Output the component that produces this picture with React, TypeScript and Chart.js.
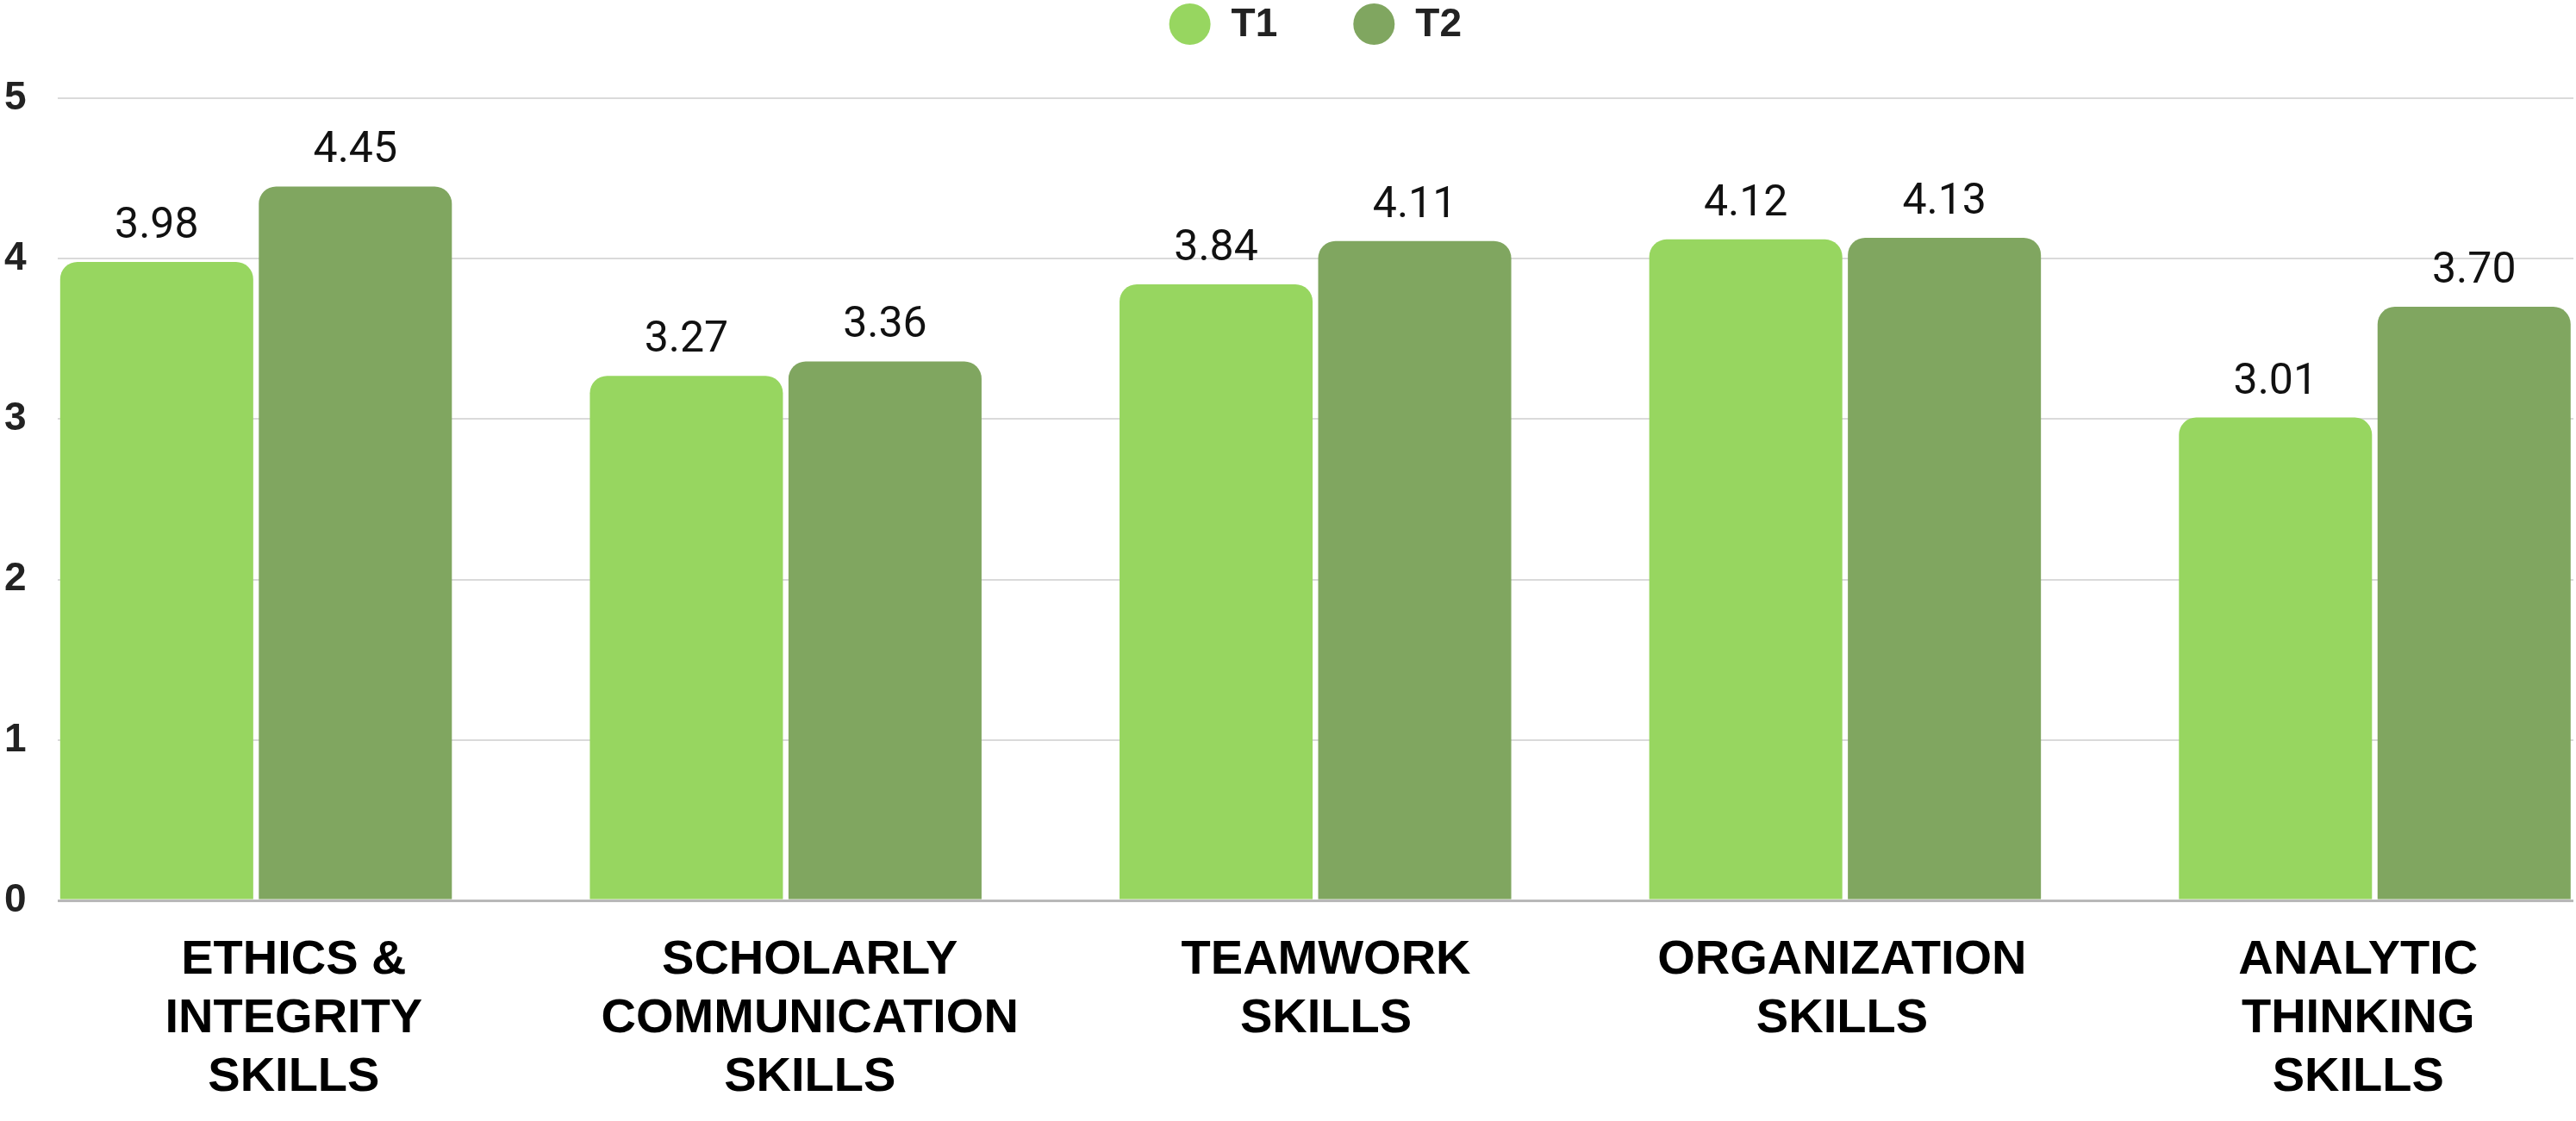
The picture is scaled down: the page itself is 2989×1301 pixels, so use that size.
import { useEffect, useRef } from "react";
import { Chart, registerables } from "chart.js";

Chart.register(...registerables);

const CATEGORIES: string[][] = [
  ["ETHICS &", "INTEGRITY", "SKILLS"],
  ["SCHOLARLY", "COMMUNICATION", "SKILLS"],
  ["TEAMWORK", "SKILLS"],
  ["ORGANIZATION", "SKILLS"],
  ["ANALYTIC", "THINKING", "SKILLS"],
];
const SERIES_NAMES = ["T1", "T2"];
const T1_VALUES = [3.98, 3.27, 3.84, 4.12, 3.01];
const T2_VALUES = [4.45, 3.36, 4.11, 4.13, 3.7];
const Y_TICKS = [0, 1, 2, 3, 4, 5];
const COLORS = ["#97D660", "#80A660"];

const CAT_PCT = 0.75;
// category-label axis spans a slightly wider range than the bar axis
const LABEL_AXIS_MIN = -0.458;
const LABEL_AXIS_MAX = 4.417;

const valueLabelPlugin = {
  id: "valueLabels",
  afterDatasetsDraw(chart: any) {
    const ctx = chart.ctx;
    ctx.save();
    ctx.font = "400 50px Roboto";
    ctx.fillStyle = "#111111";
    ctx.textAlign = "center";
    ctx.textBaseline = "alphabetic";
    chart.data.datasets.forEach((ds: any, di: number) => {
      const meta = chart.getDatasetMeta(di);
      meta.data.forEach((el: any, i: number) => {
        const v = ds.data[i].y as number;
        ctx.fillText(v.toFixed(2), el.x, el.y - 28);
      });
    });
    ctx.restore();
  },
};

const legendPlugin = {
  id: "customLegend",
  afterDraw(chart: any) {
    const ctx = chart.ctx;
    ctx.save();
    ctx.font = "bold 46px 'Liberation Sans'";
    const r = 24;
    const box = 48;
    const gap = 88;
    const items = chart.data.datasets.map((ds: any) => ({
      label: ds.label as string,
      color: ds.backgroundColor as string,
      w: box + 24 + ctx.measureText(ds.label).width,
    }));
    const total =
      items.reduce((s: number, it: any) => s + it.w, 0) + gap * (items.length - 1);
    const xl = chart.scales.xl;
    let x = (xl.left + xl.right) / 2 - total / 2;
    const y = 28;
    items.forEach((it: any) => {
      ctx.beginPath();
      ctx.fillStyle = it.color;
      ctx.arc(x + box / 2, y, r, 0, Math.PI * 2);
      ctx.fill();
      ctx.fillStyle = "#222222";
      ctx.textAlign = "left";
      ctx.textBaseline = "middle";
      ctx.fillText(it.label, x + box + 24, y + 1);
      x += it.w + gap;
    });
    ctx.restore();
  },
};

export default function App() {
  const canvasRef = useRef<HTMLCanvasElement | null>(null);

  useEffect(() => {
    document.body.style.margin = "0";
    const canvas = canvasRef.current;
    if (!canvas) return;
    const seriesValues = [T1_VALUES, T2_VALUES];
    const catTicks = (scale: any) => {
      scale.ticks = CATEGORIES.map((_, i) => ({ value: i }));
    };
    const chart = new Chart(canvas, {
      type: "bar",
      data: {
        datasets: SERIES_NAMES.map((name, si) => ({
          label: name,
          data: seriesValues[si].map((v, i) => ({ x: i, y: v })),
          backgroundColor: COLORS[si],
          borderRadius: { topLeft: 20, topRight: 20, bottomLeft: 0, bottomRight: 0 },
          borderSkipped: "start",
          categoryPercentage: CAT_PCT,
          barPercentage: 0.972,
        })),
      },
      options: {
        animation: false,
        responsive: false,
        maintainAspectRatio: false,
        layout: { padding: { top: 114, left: 5, right: 3, bottom: -19 } },
        plugins: {
          legend: { display: false },
          tooltip: { enabled: false },
        },
        scales: {
          x: {
            type: "linear",
            position: "bottom",
            offset: false,
            min: -CAT_PCT / 2,
            max: CATEGORIES.length - 1 + CAT_PCT / 2,
            afterBuildTicks: catTicks,
            grid: { display: false, drawTicks: false, offset: false },
            border: { display: false },
            ticks: { display: false },
          },
          xl: {
            type: "linear",
            axis: "x",
            position: "bottom",
            offset: false,
            min: LABEL_AXIS_MIN,
            max: LABEL_AXIS_MAX,
            afterBuildTicks: catTicks,
            grid: { display: false, drawTicks: false, offset: false },
            border: { display: false },
            ticks: {
              autoSkip: false,
              maxRotation: 0,
              minRotation: 0,
              padding: 35,
              color: "#000000",
              font: { family: "'Liberation Sans'", weight: "bold", size: 56, lineHeight: 1.22 },
              callback: (value: any) => CATEGORIES[Math.round(Number(value))] ?? "",
            },
          },
          y: {
            min: Y_TICKS[0],
            max: Y_TICKS[Y_TICKS.length - 1],
            afterBuildTicks: (scale: any) => {
              scale.ticks = Y_TICKS.map((v) => ({ value: v }));
            },
            grid: {
              drawTicks: false,
              color: (c: any) => (c.tick && c.tick.value === 0 ? "#b8b8b8" : "#dadada"),
              lineWidth: (c: any) => (c.tick && c.tick.value === 0 ? 3 : 2),
            },
            border: { display: false },
            ticks: {
              padding: 18,
              crossAlign: "far",
              color: "#222222",
              font: { family: "'Liberation Sans'", weight: "bold", size: 46 },
            },
          },
        },
      } as any,
      plugins: [valueLabelPlugin, legendPlugin],
    });
    return () => chart.destroy();
  }, []);

  return (
    <div style={{ width: 2989, height: 1301 }}>
      <canvas ref={canvasRef} width={2989} height={1301} style={{ display: "block" }} />
    </div>
  );
}
